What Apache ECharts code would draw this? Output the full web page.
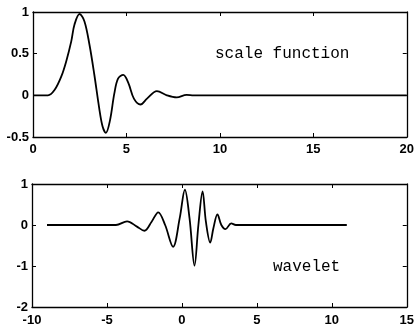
<!DOCTYPE html>
<html>
<head>
<meta charset="utf-8">
<script src="https://cdn.jsdelivr.net/npm/echarts@6/dist/echarts.min.js"></script>
<style>
  html, body { margin: 0; padding: 0; background: #fff; }
  #main { width: 417px; height: 328px; }
</style>
</head>
<body>
<div id="main"></div>
<script>
  // scale function (top panel)
  var scaleX = [0, 0.8, 1.16, 1.52, 1.78, 2.05, 2.22, 2.49, 2.75, 3.02, 3.28, 3.54, 3.72, 3.9, 4.12, 4.35, 4.55, 4.83, 5.1, 5.4, 5.75, 6.1, 6.63, 7.16, 7.69, 8.22, 8.6, 10, 20];
  var scaleY = [0, 0, 0.067, 0.23, 0.41, 0.65, 0.85, 0.976, 0.89, 0.61, 0.25, -0.15, -0.37, -0.45, -0.3, 0.02, 0.2, 0.245, 0.15, -0.04, -0.11, -0.04, 0.05, 0.0, -0.025, 0.005, 0, 0, 0];

  // wavelet (bottom panel)
  var waveX = [-9, -4.4, -3.66, -3.0, -2.5, -2.02, -1.58, -1.12, -0.59, -0.15, 0.2, 0.51, 0.84, 1.1, 1.38, 1.6, 1.89, 2.1, 2.37, 2.63, 2.91, 3.29, 3.6, 5, 11];
  var waveY = [0, 0, 0.09, -0.04, -0.14, 0.08, 0.31, 0.0, -0.53, 0.16, 0.86, 0.16, -0.99, 0, 0.82, 0.08, -0.43, -0.08, 0.26, 0, -0.1, 0.04, 0, 0, 0];

  var topTicksX = [0, 5, 10, 15, 20];
  var topTicksY = [-0.5, 0, 0.5, 1];
  var botTicksX = [-10, -5, 0, 5, 10, 15];
  var botTicksY = [-2, -1, 0, 1];

  function pairs(xs, ys) {
    return xs.map(function (x, i) { return [x, ys[i]]; });
  }

  var lbl = { color: '#000', fontFamily: 'Liberation Sans, Arial', fontSize: 13, fontWeight: 'bold' };

  function axis(grid, ticks, pos, showLabel, margin) {
    return {
      type: 'value',
      gridIndex: grid,
      position: pos,
      min: ticks[0],
      max: ticks[ticks.length - 1],
      interval: ticks[1] - ticks[0],
      axisLine: { show: true, onZero: false, lineStyle: { color: '#000', width: 1.3 } },
      axisTick: { show: true, inside: true, length: 4, lineStyle: { color: '#000', width: 1 } },
      axisLabel: Object.assign({ show: showLabel, margin: margin }, lbl),
      splitLine: { show: false }
    };
  }

  var myChart = echarts.init(document.getElementById('main'));
  myChart.setOption({
    animation: false,
    backgroundColor: '#fff',
    grid: [
      { left: 33, top: 12, width: 378, height: 125 },
      { left: 32, top: 184, width: 379, height: 123 }
    ],
    xAxis: [
      axis(0, topTicksX, 'bottom', true, 6),
      axis(0, topTicksX, 'top', false, 6),
      axis(1, botTicksX, 'bottom', true, 7),
      axis(1, botTicksX, 'top', false, 7)
    ],
    yAxis: [
      axis(0, topTicksY, 'left', true, 4),
      axis(0, topTicksY, 'right', false, 4),
      axis(1, botTicksY, 'left', true, 4),
      axis(1, botTicksY, 'right', false, 4)
    ],
    series: [
      {
        name: 'scale function',
        type: 'line',
        xAxisIndex: 0,
        yAxisIndex: 0,
        data: pairs(scaleX, scaleY),
        symbol: 'none',
        smooth: 0.35,
        lineStyle: { color: '#000', width: 1.8 }
      },
      {
        name: 'wavelet',
        type: 'line',
        xAxisIndex: 2,
        yAxisIndex: 2,
        data: pairs(waveX, waveY),
        symbol: 'none',
        smooth: 0.35,
        lineStyle: { color: '#000', width: 1.8 }
      }
    ],
    graphic: [
      {
        type: 'text', left: 215, top: 46,
        style: { text: 'scale function', fill: '#000', font: '16px "Liberation Mono", "DejaVu Sans Mono", monospace' }
      },
      {
        type: 'text', left: 273, top: 259,
        style: { text: 'wavelet', fill: '#000', font: '16px "Liberation Mono", "DejaVu Sans Mono", monospace' }
      }
    ]
  });
  window.onresize = function () { myChart.resize(); };
</script>
</body>
</html>
